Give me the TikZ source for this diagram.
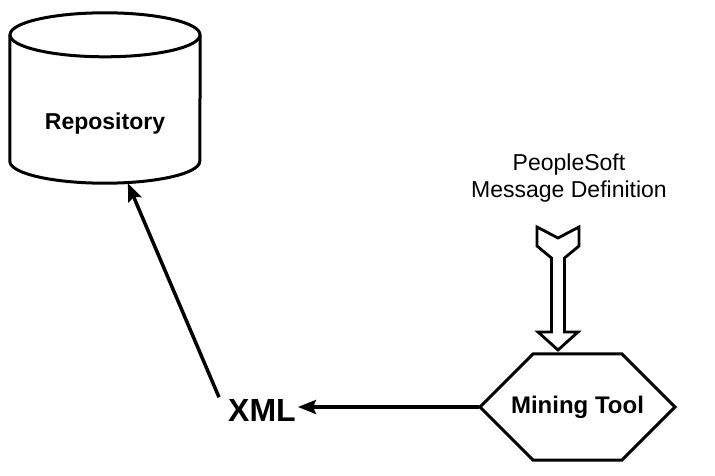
\documentclass[tikz,border=0pt]{standalone}
\usepackage{fontspec}
\setmainfont{Liberation Sans}
\usetikzlibrary{shapes.geometric, shapes.misc, arrows.meta, positioning, calc}

\begin{document}
\begin{tikzpicture}[
  x=1pt, y=1pt,
  storebox/.style={minimum width=190pt, minimum height=170pt, inner sep=0pt},
  storeline/.style={line width=3pt},
  storetext/.style={font=\fontsize{23}{27}\selectfont\bfseries},
  toolbox/.style={chamfered rectangle, chamfered rectangle xsep=48pt, chamfered rectangle ysep=42pt, draw, line width=3pt, minimum width=195pt, minimum height=84pt, inner sep=0pt, font=\fontsize{24}{28}\selectfont\bfseries},
  msgtext/.style={align=center, font=\fontsize{23}{27}\selectfont},
  xmltext/.style={font=\fontsize{32}{36}\selectfont\bfseries, inner sep=2pt},
  flowarrow/.style={-{Stealth[length=18pt, width=14pt, inset=3pt]}, line width=3.5pt},
  hollowarrow/.style={draw, line width=2.8pt, line join=miter}
]
  \useasboundingbox (0,0) rectangle (715,-476);

  % Repository store
  \node[storebox] (repo) at (105,-98) {};
  \draw[storeline] ($(repo.north west)+(0,-22)$) -- ($(repo.south west)+(0,22)$)
    arc[start angle=180, end angle=360, x radius=95pt, y radius=22pt]
    -- ($(repo.north east)+(0,-22)$);
  \draw[storeline] ($(repo.north)+(0,-22)$) ellipse[x radius=95pt, y radius=22pt];
  \node[storetext] (repo-text) at ([yshift=-26pt]repo.center) {Repository};

  % Mining tool and its input
  \node[toolbox] (mine) at (577.5,-407) {Mining Tool};
  \node[msgtext] (msg) at (569,-177.7) {PeopleSoft\\Message Definition};

  % Output
  \node[xmltext] (xml) at (262,-410.5) {XML};

  % Flow arrows
  \draw[flowarrow] (mine.west) -- (mine.west -| xml.east);
  \draw[flowarrow] ([xshift=-7pt]xml.north west) -- (repo.-75);

  % Hollow arrow from the definition into the tool
  \coordinate (tail) at (558,-227);
  \coordinate (tip) at (558,-350);
  \draw[hollowarrow] (tail) ++(-21,0) -- ++(21,-11) -- ++(21,11) -- ++(0,-19) -- ++(-14.5,-12) -- ++(0,-74) -- ++(13.5,0) -- (tip) -- ++(-20,18) -- ++(13.5,0) -- ++(0,74) -- ++(-14.5,12) -- cycle;
\end{tikzpicture}
\end{document}
